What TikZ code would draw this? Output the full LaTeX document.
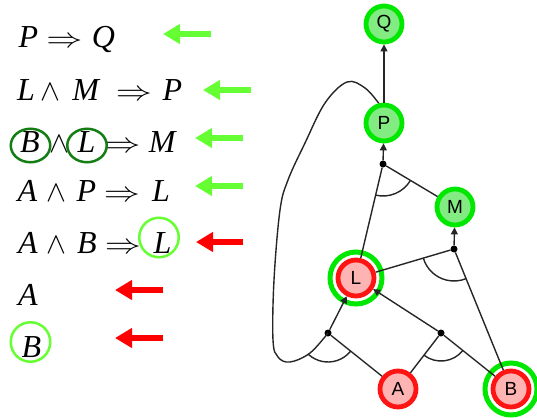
\documentclass[tikz,border=0pt]{standalone}
\usepackage{graphicx}
\usepackage{fontspec}
\setmainfont{Liberation Serif}
\newfontfamily\nodefont{Liberation Sans}
\usetikzlibrary{arrows.meta,angles,shapes.geometric}
\definecolor{limeg}{RGB}{102,255,51}
\definecolor{arrred}{RGB}{255,0,0}
\definecolor{dkgreen}{RGB}{20,125,20}
\definecolor{gnfill}{RGB}{130,235,130}
\definecolor{gnedge}{RGB}{0,232,0}
\definecolor{rdfill}{RGB}{255,180,180}
\definecolor{rdedge}{RGB}{255,20,20}
\newcommand{\implsym}{\scalebox{1.45}[1.12]{$\Rightarrow$}}
\newcommand{\andsym}{\scalebox{1.2}{$\wedge$}}
\tikzset{
  gnode/.style={circle, draw=gnedge, fill=gnfill, line width=4.8pt, minimum size=36pt, inner sep=0pt, font=\nodefont\fontsize{19}{19}\selectfont},
  rnode/.style={gnode, draw=rdedge, fill=rdfill},
  ring/.style={circle, draw=gnedge, line width=5pt, minimum size=52pt, inner sep=0pt},
  jdot/.style={circle, fill=black, inner sep=0pt, minimum size=7pt},
  edge/.style={draw=black!85, line width=1.4pt},
  tipped/.style={-{Triangle[length=7pt,width=7pt]}},
  sym/.style={anchor=base, inner sep=0pt, font=\fontsize{32}{32}\selectfont},
  bigarrow/.style={line width=6pt, -{Triangle[length=17pt,width=19pt]}},
  mark1/.style={circle, draw=limeg, line width=2.5pt, minimum size=39.5pt, inner sep=0pt},
  mark2/.style={ellipse, draw=dkgreen, line width=2.5pt, minimum width=39.5pt, minimum height=33.5pt, inner sep=0pt}
}
\begin{document}
\begin{tikzpicture}[x=1pt,y=1pt]
\useasboundingbox (0,0) rectangle (537,-417);
\clip (0,0) rectangle (537,-417);
% rule list
\node[sym] (t1a) at (28.5,-48) {\textit{P}};
\node[sym] (t1b) at (64.5,-48) {\implsym};
\node[sym] (t1c) at (103.5,-48) {\textit{Q}};
\node[sym] (t2a) at (26,-100) {\textit{L}};
\node[sym] (t2b) at (50,-100) {\andsym};
\node[sym] (t2c) at (86.5,-100) {\textit{M}};
\node[sym] (t2d) at (134,-100) {\implsym};
\node[sym] (t2e) at (172.5,-100) {\textit{P}};
\node[sym] (t3a) at (30,-152) {\textit{B}};
\node[sym] (t3b) at (59.5,-152) {\andsym};
\node[sym] (t3c) at (86.5,-152) {\textit{L}};
\node[sym] (t3d) at (122.5,-152) {\implsym};
\node[sym] (t3e) at (163,-152) {\textit{M}};
\node[sym] (t4a) at (27.5,-201) {\textit{A}};
\node[sym] (t4b) at (56.5,-201) {\andsym};
\node[sym] (t4c) at (86.5,-201) {\textit{P}};
\node[sym] (t4d) at (122,-201) {\implsym};
\node[sym] (t4e) at (161,-201) {\textit{L}};
\node[sym] (t5a) at (28,-253) {\textit{A}};
\node[sym] (t5b) at (56.5,-253) {\andsym};
\node[sym] (t5c) at (87,-253) {\textit{B}};
\node[sym] (t5d) at (123,-253) {\implsym};
\node[sym] (t5e) at (162.5,-253) {\textit{L}};
\node[sym] (t6a) at (28,-305) {\textit{A}};
\node[sym] (t7a) at (31.5,-357) {\textit{B}};
% marks
\node[mark2] (m3b) at (30.5,-145.5) {};
\node[mark2] (m3l) at (87,-145.5) {};
\node[mark1] (m5l) at (159,-237.5) {};
\node[mark1] (m7b) at (30.5,-342) {};
% pointers
\draw[bigarrow, limeg] (211,-34) -- (163,-34);
\draw[bigarrow, limeg] (251,-90) -- (203,-90);
\draw[bigarrow, limeg] (243,-138) -- (195,-138);
\draw[bigarrow, limeg] (243,-186) -- (195,-186);
\draw[bigarrow, arrred] (243,-242) -- (196,-242);
\draw[bigarrow, arrred] (163,-290) -- (115,-290);
\draw[bigarrow, arrred] (163,-338) -- (115,-338);
% graph
\node[ring] (Lr) at (356,-278) {};
\node[ring] (Br) at (511,-389) {};
\node[gnode] (Q) at (384,-24) {Q};
\node[gnode] (P) at (384,-123) {P};
\node[gnode] (M) at (455,-207) {M};
\node[rnode] (L) at (356,-278) {L};
\node[rnode] (A) at (398,-389) {A};
\node[rnode] (B) at (511,-389) {B};
\node[jdot] (jp) at (383,-164) {};
\node[jdot] (jm) at (454,-249) {};
\node[jdot] (jl1) at (328,-333) {};
\node[jdot] (jl2) at (441,-333) {};
\coordinate (lp) at (310,-353);
\draw[edge,tipped] (P) -- (Q);
\draw[edge,tipped] (jp) -- (P);
\draw[edge] (jp) -- (M);
\draw[edge] (jp) -- (L);
\draw[edge,tipped] (jm) -- (M);
\draw[edge] (jm) -- (L);
\draw[edge] (jm) -- (B);
\draw[edge,tipped] (jl1) -- (L);
\draw[edge] (jl1) -- (A);
\draw[edge,tipped] (jl2) -- (L);
\draw[edge] (jl2) -- (A);
\draw[edge] (jl2) -- (B);
\draw[edge] plot[smooth, tension=0.6] coordinates {(jl1.center) (lp) (290,-362) (278,-357) (273,-340) (274,-280) (280,-210) (288,-180) (305,-143) (325,-103) (347,-82) (365,-88) (P.105)};
\pic[draw=black!85, line width=1.4pt, angle radius=32pt] {angle=L--jp--M};
\pic[draw=black!85, line width=1.4pt, angle radius=32pt] {angle=L--jm--B};
\pic[draw=black!85, line width=1.4pt, angle radius=29pt] {angle=lp--jl1--A};
\pic[draw=black!85, line width=1.4pt, angle radius=28pt] {angle=A--jl2--B};
\end{tikzpicture}
\end{document}
